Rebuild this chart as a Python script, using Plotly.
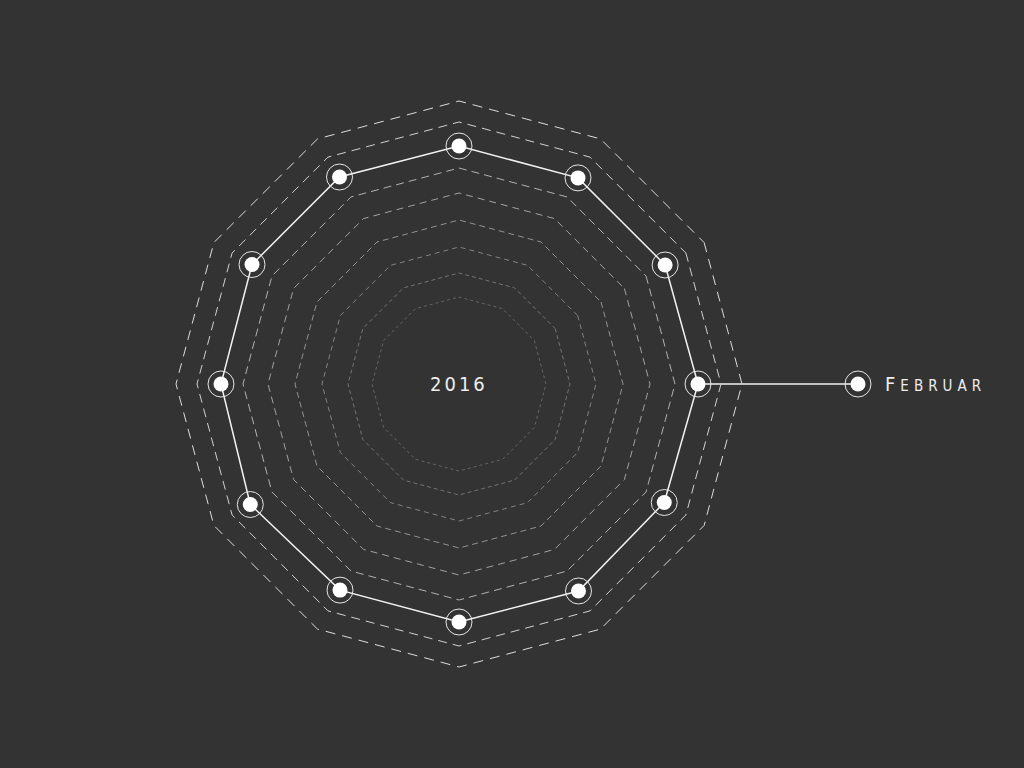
import plotly.graph_objects as go

# data
months = ["Januar", "Februar", "März", "April", "Mai", "Juni",
          "Juli", "August", "September", "Oktober", "November", "Dezember"]
values = [23.8, 23.9, 23.7, 23.9, 23.8, 23.8, 24.1, 23.8, 23.9, 23.9, 23.8, 23.8]
ring_levels = [8.7, 11.1, 13.7, 16.4, 19.1, 21.6, 26.2, 28.3]
year_label = "2016"
highlight = "Februar"

# look
bg = "#333333"
ring_colors = ["#666666", "#737373", "#828282", "#929292",
               "#a2a2a2", "#b2b2b2", "#d2d2d2", "#dddddd"]
ring_dash = ["3px,3px", "4px,3px", "5px,4px", "6px,4px",
             "7px,5px", "8px,5px", "9px,6px", "10px,7px"]

W, H = 1024, 768
CX, CY = 459, 384          # centre of the polar area in pixels
R_PX = 384                 # polar radius in pixels
R_MAX = 38.4               # radial value at the polar edge
callout_len = 160

closed_theta = months + [months[0]]

fig = go.Figure()

for lvl, col, dsh in zip(ring_levels, ring_colors, ring_dash):
    fig.add_trace(go.Scatterpolar(
        r=[lvl] * len(closed_theta), theta=closed_theta, mode="lines",
        line=dict(color=col, width=1, dash=dsh),
        hoverinfo="skip", showlegend=False))

fig.add_trace(go.Scatterpolar(
    r=values + [values[0]], theta=closed_theta, mode="lines",
    line=dict(color="#f2f2f2", width=1.5),
    hoverinfo="skip", showlegend=False))

fig.add_trace(go.Scatterpolar(
    r=values, theta=months, mode="markers",
    marker=dict(symbol="circle-open", size=26, color="#e6e6e6",
                line=dict(width=1)),
    hoverinfo="skip", showlegend=False))

fig.add_trace(go.Scatterpolar(
    r=values, theta=months, mode="markers",
    marker=dict(size=15, color="white"),
    hovertemplate="%{theta}: %{r}<extra></extra>", showlegend=False))

# callout for the highlighted month (to the right, at 0 degrees)
hv = values[months.index(highlight)]
x_start = CX + hv * R_PX / R_MAX
x_end = x_start + callout_len

fig.add_trace(go.Scatter(
    x=[x_start, x_end], y=[CY, CY], mode="lines",
    line=dict(color="#f2f2f2", width=1.5),
    hoverinfo="skip", showlegend=False, xaxis="x", yaxis="y"))
fig.add_trace(go.Scatter(
    x=[x_end], y=[CY], mode="markers",
    marker=dict(symbol="circle-open", size=26, color="#e6e6e6",
                line=dict(width=1)),
    hoverinfo="skip", showlegend=False))
fig.add_trace(go.Scatter(
    x=[x_end], y=[CY], mode="markers",
    marker=dict(size=15, color="white"),
    hoverinfo="skip", showlegend=False))

fig.add_annotation(
    x=CX, y=CY, xref="x", yref="y", showarrow=False,
    text='<span style="letter-spacing:3px">' + year_label + "</span>",
    font=dict(family="DejaVu Sans Condensed, DejaVu Sans", size=20,
              color="#eeeeee"))
fig.add_annotation(
    x=x_end + 25, y=CY, xref="x", yref="y", showarrow=False,
    xanchor="left",
    text='<span style="letter-spacing:5px">' + highlight[0].upper()
         + '<span style="font-size:15px">' + highlight[1:].upper()
         + "</span></span>",
    font=dict(family="DejaVu Sans Condensed, DejaVu Sans", size=20,
              color="#eeeeee"))

fig.update_layout(
    width=W, height=H,
    margin=dict(l=0, r=0, t=0, b=0),
    paper_bgcolor=bg, plot_bgcolor=bg,
    polar=dict(
        domain=dict(x=[(CX - R_PX) / W, (CX + R_PX) / W], y=[0, 1]),
        bgcolor="rgba(0,0,0,0)",
        radialaxis=dict(range=[0, R_MAX], visible=False),
        angularaxis=dict(visible=False, direction="clockwise",
                         rotation=30, categoryarray=months,
                         categoryorder="array"),
    ),
    xaxis=dict(range=[0, W], visible=False, fixedrange=True),
    yaxis=dict(range=[H, 0], visible=False, fixedrange=True),
)

fig.write_html(
    "out.html",
    config={"displayModeBar": False},
    post_script="document.body.style.margin='0';"
                "document.body.style.background='" + bg + "';"
                "document.body.style.overflow='hidden';",
)
